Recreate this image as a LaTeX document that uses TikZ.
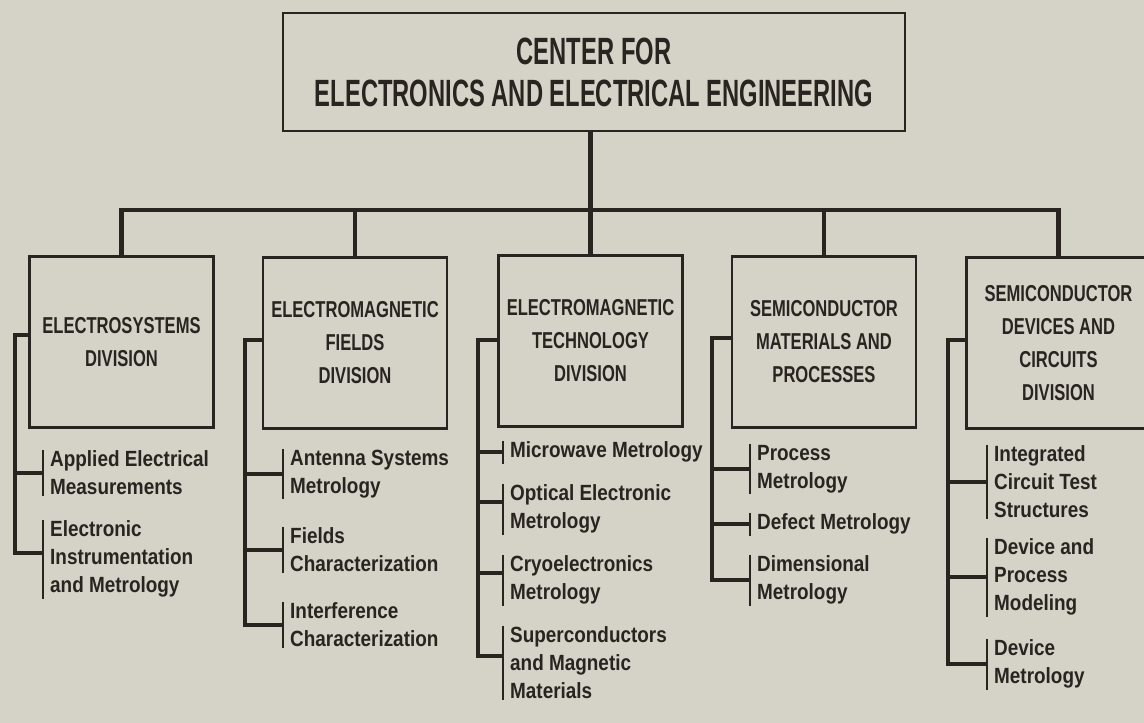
\documentclass[tikz,border=0pt]{standalone}
\usepackage{fontspec}
\setmainfont{Liberation Sans}
\newfontfamily\headfont{Liberation Sans}[FakeStretch=0.625]
\newfontfamily\divfont{Liberation Sans}[FakeStretch=0.72]
\newfontfamily\unitfont{Liberation Sans}[FakeStretch=0.86]
\usepackage{tikz}
\usetikzlibrary{
  calc
}
\definecolor{orgInk}{HTML}{2A2420}
\definecolor{orgPaper}{HTML}{D5D2C8}
\tikzset{
  orgnode/.style={
    draw=orgInk, text=orgInk, align=center, line width=2.6pt
  },
  topbox/.style={orgnode, minimum width=622pt, minimum height=118pt,
    font=\headfont\bfseries\fontsize{38}{42}\selectfont},
  divbox/.style={orgnode, minimum width=184pt, minimum height=171pt,
    font=\divfont\bfseries\fontsize{23}{33}\selectfont},
  unit/.style={anchor=west, align=left, text=orgInk, inner xsep=7pt, inner ysep=1pt,
    font=\unitfont\bfseries\fontsize{22}{28}\selectfont},
  trunk/.style={draw=orgInk, line width=4.5pt},
  spine/.style={draw=orgInk, line width=4.5pt},
  tick/.style={draw=orgInk, line width=3.5pt},
  bar/.style={draw=orgInk, line width=2.5pt}
}

\begin{document}
\begin{tikzpicture}[x=1pt, y=-1pt]
  \useasboundingbox (0,0) rectangle (1144,723);
  \clip (0,0) rectangle (1144,723);
  \fill[orgPaper] (0,0) rectangle (1144,723);

  \node[topbox] (cee) at (594,72) {CENTER FOR\\ELECTRONICS AND ELECTRICAL ENGINEERING};

  \node[divbox] (ed) at (121.5,342) {ELECTROSYSTEMS\\DIVISION};
  \node[divbox] (ef) at (355,343) {ELECTROMAGNETIC\\FIELDS\\DIVISION};
  \node[divbox] (et) at (590.5,341) {ELECTROMAGNETIC\\TECHNOLOGY\\DIVISION};
  \node[divbox] (sm) at (824,342) {SEMICONDUCTOR\\MATERIALS AND\\PROCESSES};
  \node[divbox] (sd) at (1058.5,343) {SEMICONDUCTOR\\DEVICES AND\\CIRCUITS\\DIVISION};

  \coordinate (bus) at (0,210);
  \draw[trunk] (cee.south -| et.north) -- (et.north);
  \draw[trunk] (ed.north) -- (ed.north |- bus) -- (sd.north |- bus) -- (sd.north);
  \draw[trunk] (ef.north |- bus) -- (ef.north);
  \draw[trunk] (sm.north |- bus) -- (sm.north);

  \node[unit] (es1) at (43,473) {Applied Electrical\\Measurements};
  \node[unit] (es2) at (43,559) {Electronic\\Instrumentation\\and Metrology};
  \node[unit] (ef1) at (283,474) {Antenna Systems\\Metrology};
  \node[unit] (ef2) at (283,550) {Fields\\Characterization};
  \node[unit] (ef3) at (283,625) {Interference\\Characterization};
  \node[unit] (et1) at (503,452) {Microwave Metrology};
  \node[unit] (et2) at (503,509) {Optical Electronic\\Metrology};
  \node[unit] (et3) at (503,580) {Cryoelectronics\\Metrology};
  \node[unit] (et4) at (503,663) {Superconductors\\and Magnetic\\Materials};
  \node[unit] (sm1) at (750,469) {Process\\Metrology};
  \node[unit] (sm2) at (750,524) {Defect Metrology};
  \node[unit] (sm3) at (750,580) {Dimensional\\Metrology};
  \node[unit] (sd1) at (987,482) {Integrated\\Circuit Test\\Structures};
  \node[unit] (sd2) at (987,577) {Device and\\Process\\Modeling};
  \node[unit] (sd3) at (987,664) {Device\\Metrology};

  \coordinate (ed-s) at (15,335);
  \coordinate (ef-s) at (245,340);
  \coordinate (et-s) at (478,340);
  \coordinate (sm-s) at (712,338);
  \coordinate (sd-s) at (948,340);
  \draw[spine] (ed.west |- ed-s) -- (ed-s) |- ([yshift=6pt]es2.west);
  \draw[spine] (ef.west |- ef-s) -- (ef-s) |- (ef3.west);
  \draw[spine] (et.west |- et-s) -- (et-s) |- ([yshift=7pt]et4.west);
  \draw[spine] (sm.west |- sm-s) -- (sm-s) |- (sm3.west);
  \draw[spine] (sd.west |- sd-s) -- (sd-s) |- (sd3.west);

  \foreach \s/\u in {ed/es1, ef/ef1, ef/ef2, et/et1, sm/sm1, sm/sm2, sd/sd1, sd/sd2}
    \draw[tick] (\s-s |- \u.west) -- (\u.west);
  \draw[tick] ($(et-s |- et2.west)+(0,-7)$) -- ([yshift=7pt]et2.west);
  \draw[tick] ($(et-s |- et3.west)+(0,-7)$) -- ([yshift=7pt]et3.west);

  \foreach \u in {es1,es2,ef1,ef2,ef3,et1,et2,et3,et4,sm1,sm2,sm3,sd1,sd2,sd3}
    \draw[bar] (\u.north west) -- (\u.south west);
\end{tikzpicture}
\end{document}
